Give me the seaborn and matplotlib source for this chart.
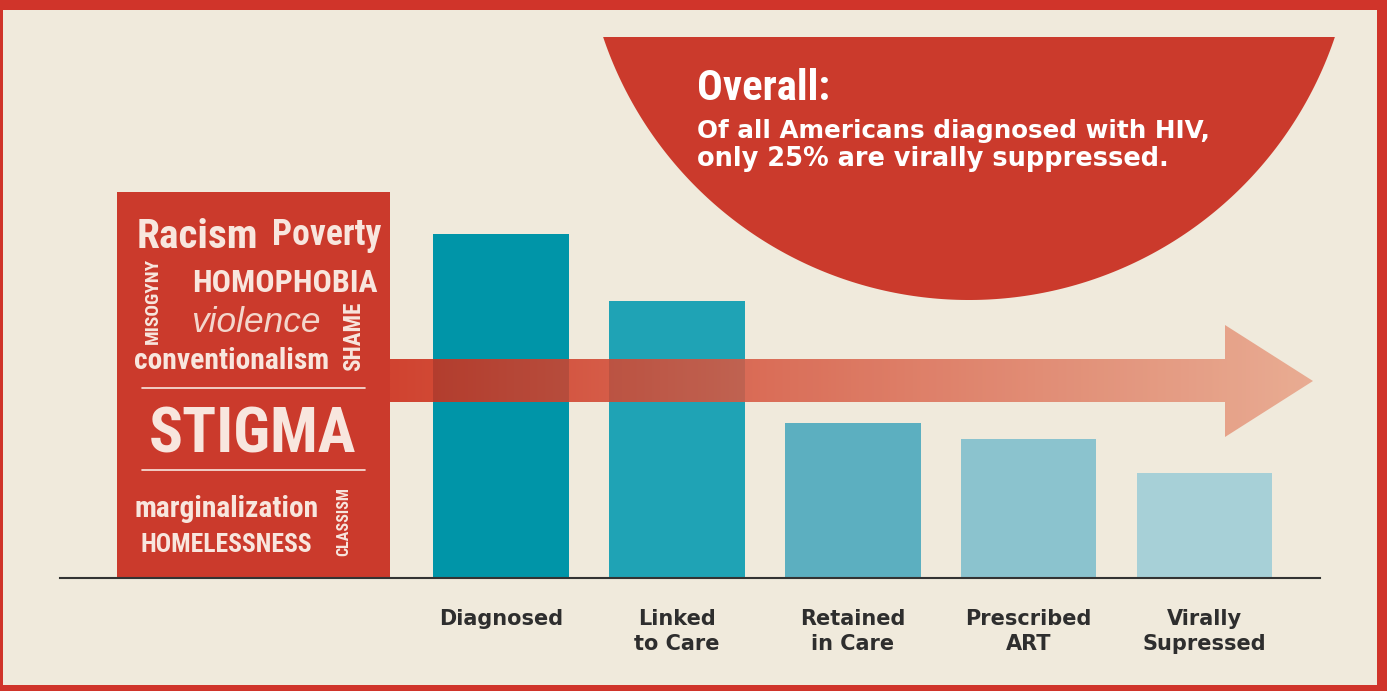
import numpy as np
import pandas as pd
import seaborn as sns
import matplotlib.pyplot as plt
from matplotlib import font_manager as fm
from matplotlib.patches import Polygon, Rectangle

# Data
stages = ["Diagnosed", "Linked\nto Care", "Retained\nin Care", "Prescribed\nART", "Virally\nSupressed"]
percent = [82, 66, 37, 33, 25]
bar_colors = ["#0095A8", "#1FA3B5", "#5CAFC0", "#8BC3CE", "#A7D0D7"]

headline = "Overall:"
summary = ["Of all Americans diagnosed with HIV,", "only 25% are virally suppressed."]

W, H = 1387, 691
BG = "#F0EADC"
RED = "#CB3A2C"
BORDER = "#D0342A"
WORD = "#F8E6DE"

sns.set_theme(style="white")
plt.rcParams['font.family'] = ['DejaVu Sans']

names = {f.name for f in fm.fontManager.ttflist}
narrow = next((n for n in ["Liberation Sans Narrow", "Roboto Condensed", "Open Sans Condensed"] if n in names), "DejaVu Sans")
arial = "Liberation Sans" if "Liberation Sans" in names else "DejaVu Sans"

fig = plt.figure(figsize=(W / 100, H / 100), dpi=100, facecolor=BG)
renderer = fig.canvas.get_renderer()


def overlay(z):
    a = fig.add_axes([0, 0, 1, 1], zorder=z)
    a.set_xlim(0, W)
    a.set_ylim(H, 0)
    a.axis("off")
    a.patch.set_alpha(0)
    return a


def fit_text(a, s, x0, x1, ybase, **kw):
    # scale the font so the text spans x0..x1 pixels
    t = a.text(x0, ybase, s, fontsize=20, ha="left", va="baseline", **kw)
    w = t.get_window_extent(renderer).width
    t.set_fontsize(20 * (x1 - x0) / w)
    return t


def fit_vert(a, s, x0, x1, y0, y1, **kw):
    t = a.text((x0 + x1) / 2, (y0 + y1) / 2, s, fontsize=20, rotation=90,
               ha="center", va="center", **kw)
    h = t.get_window_extent(renderer).height
    t.set_fontsize(20 * (y1 - y0) / h)
    return t


back = overlay(0)

# red half disc at the top right
cx, cy, R = 969, -86, 386
t0 = np.arcsin((37 - cy) / R)
tt = np.linspace(t0, np.pi - t0, 200)
back.add_patch(Polygon(np.c_[cx + R * np.cos(tt), cy + R * np.sin(tt)], closed=True,
                       facecolor=RED, edgecolor="none"))
fit_text(back, headline, 697, 830, 100, color="white", family=narrow, weight="bold")
fit_text(back, summary[0], 697, 1210, 138, color="white", family="DejaVu Sans", weight="bold")
fit_text(back, summary[1], 697, 1170, 166, color="white", family="DejaVu Sans", weight="bold")

# word box
back.add_patch(Rectangle((117, 192), 273, 386, facecolor=RED, edgecolor="none"))
kw = dict(color=WORD, family=narrow, weight="bold")
fit_text(back, "Racism", 137, 258, 248, **kw)
fit_text(back, "Poverty", 272, 381, 245, **kw)
fit_vert(back, "MISOGYNY", 138, 168, 258, 344, **kw)
fit_text(back, "HOMOPHOBIA", 192, 377, 292, **kw)
fit_text(back, "violence", 191, 320, 332, color="#F3D6CC", family=arial, style="italic")
fit_vert(back, "SHAME", 339, 368, 302, 371, **kw)
fit_text(back, "conventionalism", 134, 329, 369, **kw)
back.plot([142, 365], [388, 388], color=WORD, lw=1.2)
fit_text(back, "STIGMA", 149, 357, 452, **kw)
back.plot([142, 365], [470, 470], color=WORD, lw=1.2)
fit_text(back, "marginalization", 134, 318, 517, **kw)
fit_text(back, "HOMELESSNESS", 140, 312, 552, **kw)
fit_vert(back, "CLASSISM", 330, 358, 487, 556, **kw)

# frame
for r in [(0, 0, W, 10), (1377, 0, 10, H), (0, 685, W, 6), (0, 0, 3, H)]:
    back.add_patch(Rectangle(r[:2], r[2], r[3], facecolor=BORDER, edgecolor="none"))

# bars
ax = fig.add_axes([60 / W, (H - 578) / H, 1260 / W, (578 - 40) / H], zorder=1)
df = pd.DataFrame({"stage": stages, "percent": percent})
sns.barplot(data=df, x="stage", y="percent", hue="stage", palette=bar_colors,
            saturation=1, width=0.77, linewidth=0, legend=False, ax=ax)
ax.set_xlim(-2.507, 4.656)
ax.set_ylim(0, 538 / 4.2)
ax.patch.set_alpha(0)
for side in ["top", "left", "right"]:
    ax.spines[side].set_visible(False)
ax.spines["bottom"].set_color("#333333")
ax.spines["bottom"].set_linewidth(1.5)
ax.set_yticks([])
ax.set_xlabel("")
ax.set_ylabel("")
ax.tick_params(axis="x", length=0, pad=22)
for lab in ax.get_xticklabels():
    lab.set_fontsize(15)
    lab.set_fontweight("bold")
    lab.set_color("#2E2E2E")
    lab.set_linespacing(1.35)

# gradient arrow across the bars
top = overlay(2)
pts = [(390, 359), (1225, 359), (1225, 325), (1313, 381), (1225, 437), (1225, 402), (390, 402)]
arrow = Polygon(pts, closed=True, facecolor="none", edgecolor="none")
top.add_patch(arrow)
c0, c1 = np.array([204, 44, 24]) / 255, np.array([232, 164, 137]) / 255
g = np.linspace(0, 1, 256)[:, None]
img = np.ones((1, 256, 4))
img[0, :, :3] = c0 * (1 - g) + c1 * g
img[0, :, 3] = 0.88
im = top.imshow(img, extent=(390, 1313, 437, 325), aspect="auto", interpolation="bilinear")
im.set_clip_path(arrow)
top.set_xlim(0, W)
top.set_ylim(H, 0)

fig.savefig("out.png", dpi=100, facecolor=BG)
